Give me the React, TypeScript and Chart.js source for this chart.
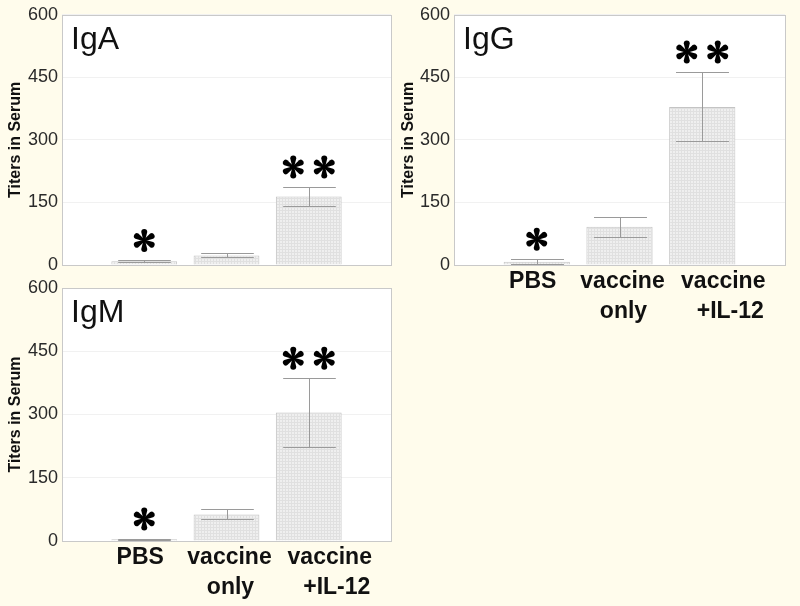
import React, { useEffect, useRef } from "react";
import { Chart, registerables } from "chart.js";
Chart.register(...registerables);

// ---- data ----
const CATEGORIES = ["", "PBS", "vaccine only", "vaccine +IL-12", ""];
const LABEL_LINES: string[][] = [[], ["PBS"], ["vaccine", "only"], ["vaccine", "+IL-12"], []];
const Y_MIN = 0;
const Y_MAX = 600;
const Y_STEP = 150;

const IGA_VALUES = [null, 9, 23, 164, null];
const IGA_ERR_LOW = [null, 7, 18, 142, null];
const IGA_ERR_HIGH = [null, 11, 28, 187, null];
const IGA_STARS = [0, 1, 0, 2, 0];

const IGG_VALUES = [null, 8, 92, 379, null];
const IGG_ERR_LOW = [null, 3, 68, 298, null];
const IGG_ERR_HIGH = [null, 14, 116, 463, null];
const IGG_STARS = [0, 1, 0, 2, 0];

const IGM_VALUES = [null, 4, 63, 305, null];
const IGM_ERR_LOW = [null, 2, 52, 223, null];
const IGM_ERR_HIGH = [null, 5, 75, 386, null];
const IGM_STARS = [0, 1, 0, 2, 0];

// text nudges for x labels (px), per line
const LABEL_DX: number[][] = [[], [-4], [3, 4], [21, 28], []];

const FONT = "'Liberation Sans', Arial, Helvetica, sans-serif";
const BG = "#FFFCEC";

type PanelCfg = {
  title: string;
  values: (number | null)[];
  low: (number | null)[];
  high: (number | null)[];
  stars: number[];
  showLabels: boolean;
  left: number;
  top: number;
  width: number;
  height: number;
  plot: { left: number; top: number; right: number; bottom: number };
};

function drawAsterisk(ctx: CanvasRenderingContext2D, cx: number, cy: number, r: number) {
  ctx.save();
  ctx.translate(cx, cy);
  ctx.fillStyle = "#000";
  for (let k = 0; k < 6; k++) {
    ctx.save();
    ctx.rotate((k * Math.PI) / 3);
    const br = 3.0;
    ctx.beginPath();
    ctx.moveTo(-0.9, 0);
    ctx.lineTo(-br, -r + br);
    ctx.arc(0, -r + br, br, Math.PI, 0);
    ctx.lineTo(0.9, 0);
    ctx.closePath();
    ctx.fill();
    ctx.restore();
  }
  ctx.beginPath();
  ctx.arc(0, 0, 1.8, 0, Math.PI * 2);
  ctx.fill();
  ctx.restore();
}

function makePattern(ctx: CanvasRenderingContext2D) {
  const c = document.createElement("canvas");
  c.width = 3;
  c.height = 3;
  const g = c.getContext("2d")!;
  g.fillStyle = "#efefef";
  g.fillRect(0, 0, 3, 3);
  g.fillStyle = "#e0e0e0";
  g.fillRect(0, 0, 3, 1);
  g.fillRect(0, 0, 1, 3);
  return ctx.createPattern(c, "repeat");
}

function Panel({ cfg }: { cfg: PanelCfg }) {
  const ref = useRef<HTMLCanvasElement>(null);
  useEffect(() => {
    const canvas = ref.current!;
    const ctx = canvas.getContext("2d")!;
    const pattern = makePattern(ctx);

    const panelPlugin = {
      id: "panelPlugin",
      beforeDraw(chart: any) {
        const { ctx, chartArea: a } = chart;
        ctx.save();
        ctx.fillStyle = "#ffffff";
        ctx.fillRect(a.left, a.top, a.right - a.left, a.bottom - a.top);
        ctx.restore();
      },
      afterDatasetsDraw(chart: any) {
        const { ctx, chartArea: a } = chart;
        const y = chart.scales.y;
        const meta = chart.getDatasetMeta(0);
        ctx.save();
        // error bars
        ctx.strokeStyle = "#9a9a9a";
        ctx.lineWidth = 1;
        meta.data.forEach((bar: any, i: number) => {
          const lo = cfg.low[i];
          const hi = cfg.high[i];
          if (lo == null || hi == null || cfg.values[i] == null) return;
          const x = Math.round(bar.x) + 0.5;
          const yl = Math.round(y.getPixelForValue(lo)) + 0.5;
          const yh = Math.round(y.getPixelForValue(hi)) + 0.5;
          const cw = bar.width * 0.8;
          ctx.beginPath();
          ctx.moveTo(x, yl);
          ctx.lineTo(x, yh);
          ctx.moveTo(x - cw / 2, yl);
          ctx.lineTo(x + cw / 2, yl);
          ctx.moveTo(x - cw / 2, yh);
          ctx.lineTo(x + cw / 2, yh);
          ctx.stroke();
        });
        // border
        ctx.strokeStyle = "#c9c9c9";
        ctx.strokeRect(
          Math.round(a.left) + 0.5,
          Math.round(a.top) + 0.5,
          Math.round(a.right - a.left),
          Math.round(a.bottom - a.top)
        );
        // stars
        meta.data.forEach((bar: any, i: number) => {
          const n = cfg.stars[i];
          const hi = cfg.high[i];
          if (!n || hi == null) return;
          const cy = y.getPixelForValue(hi) - 20;
          if (n === 1) drawAsterisk(ctx, bar.x, cy, 11.5);
          else {
            drawAsterisk(ctx, bar.x - 15.5, cy, 11.5);
            drawAsterisk(ctx, bar.x + 15.5, cy, 11.5);
          }
        });
        // panel title
        ctx.fillStyle = "#111";
        ctx.font = `32px ${FONT}`;
        ctx.textAlign = "left";
        ctx.textBaseline = "alphabetic";
        ctx.fillText(cfg.title, a.left + 9, a.top + 34);
        // x labels
        if (cfg.showLabels) {
          ctx.font = `bold 23px ${FONT}`;
          ctx.textAlign = "center";
          ctx.textBaseline = "middle";
          const xs = chart.scales.x;
          LABEL_LINES.forEach((lines, i) => {
            const cx = xs.getPixelForValue(i);
            lines.forEach((ln, j) => {
              ctx.fillText(ln, cx + (LABEL_DX[i][j] || 0), a.bottom + 17 + j * 30);
            });
          });
        }
        ctx.restore();
      },
    };

    const p = cfg.plot;
    const chart = new Chart(canvas, {
      type: "bar",
      data: {
        labels: CATEGORIES,
        datasets: [
          {
            data: cfg.values as any,
            backgroundColor: pattern as any,
            borderColor: "#c4c4c4",
            borderWidth: 1,
            categoryPercentage: 1,
            barPercentage: 0.8,
          },
        ],
      },
      options: {
        animation: false,
        responsive: false,
        events: [],
        layout: {
          padding: {
            left: 0,
            top: p.top - cfg.top,
            right: cfg.left + cfg.width - p.right,
            bottom: 0,
          },
        },
        plugins: { legend: { display: false }, tooltip: { enabled: false } },
        scales: {
          x: {
            type: "category",
            offset: false,
            grid: { display: false },
            border: { display: false },
            ticks: { display: false },
            afterFit: (s: any) => {
              s.height = cfg.top + cfg.height - p.bottom;
            },
          },
          y: {
            min: Y_MIN,
            max: Y_MAX,
            grid: { color: "#f1f1f1", drawTicks: false },
            border: { display: false },
            ticks: {
              stepSize: Y_STEP,
              padding: 4,
              color: "#2a2a2a",
              font: { family: FONT, size: 18 },
            },
            title: {
              display: true,
              text: "Titers in Serum",
              color: "#111",
              padding: { top: 6, bottom: 0 },
              font: { family: FONT, size: 16, weight: "bold" },
            },
            afterFit: (s: any) => {
              s.width = p.left - cfg.left;
            },
          },
        },
      },
      plugins: [panelPlugin],
    } as any);
    return () => chart.destroy();
  }, [cfg]);
  return (
    <canvas
      ref={ref}
      width={cfg.width}
      height={cfg.height}
      style={{ position: "absolute", left: cfg.left, top: cfg.top, width: cfg.width, height: cfg.height }}
    />
  );
}

const PANELS: PanelCfg[] = [
  {
    title: "IgA",
    values: IGA_VALUES,
    low: IGA_ERR_LOW,
    high: IGA_ERR_HIGH,
    stars: IGA_STARS,
    showLabels: false,
    left: 0,
    top: 0,
    width: 400,
    height: 280,
    plot: { left: 62, top: 13, right: 391, bottom: 265 },
  },
  {
    title: "IgG",
    values: IGG_VALUES,
    low: IGG_ERR_LOW,
    high: IGG_ERR_HIGH,
    stars: IGG_STARS,
    showLabels: true,
    left: 393,
    top: 0,
    width: 407,
    height: 330,
    plot: { left: 454, top: 13, right: 785, bottom: 265 },
  },
  {
    title: "IgM",
    values: IGM_VALUES,
    low: IGM_ERR_LOW,
    high: IGM_ERR_HIGH,
    stars: IGM_STARS,
    showLabels: true,
    left: 0,
    top: 266,
    width: 400,
    height: 340,
    plot: { left: 62, top: 288, right: 391, bottom: 541 },
  },
];

export default function App() {
  return (
    <div
      style={{
        position: "fixed",
        left: 0,
        top: 0,
        width: 800,
        height: 606,
        background: BG,
        overflow: "hidden",
      }}
    >
      {PANELS.map((c) => (
        <Panel key={c.title} cfg={c} />
      ))}
    </div>
  );
}
